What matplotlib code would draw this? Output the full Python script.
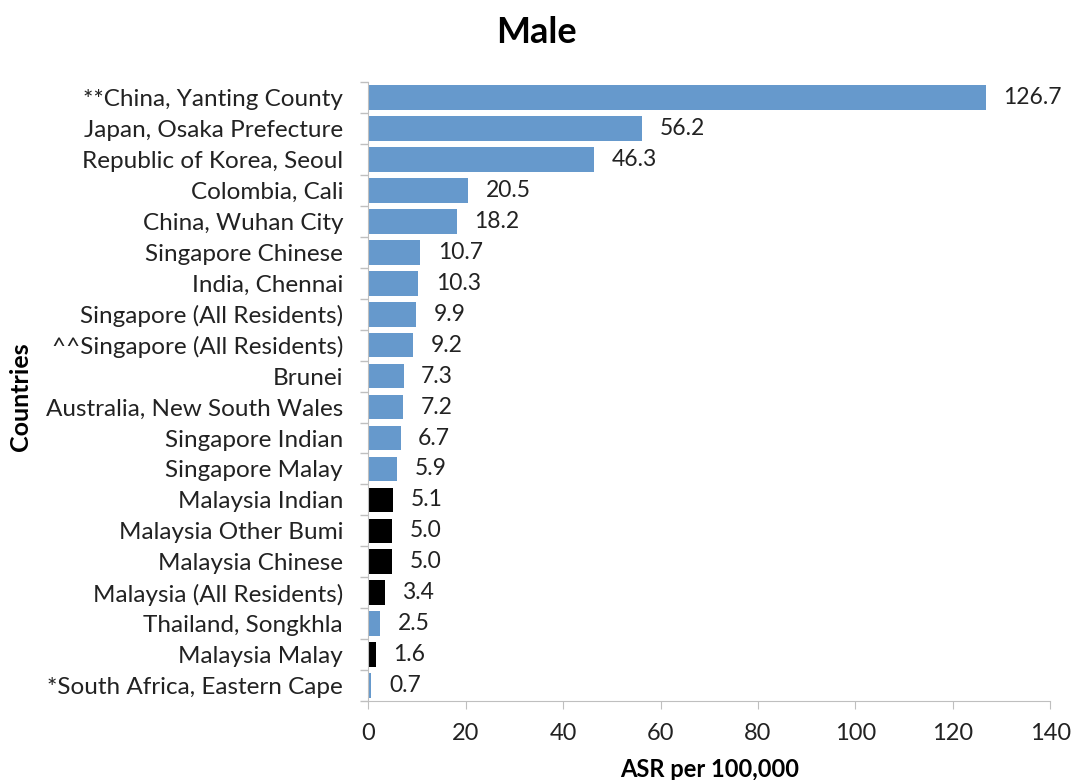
import numpy as np
import matplotlib
matplotlib.use('Agg')
import matplotlib.pyplot as plt

# rates per registry, top to bottom
countries = ['**China, Yanting County', 'Japan, Osaka Prefecture', 'Republic of Korea, Seoul',
             'Colombia, Cali', 'China, Wuhan City', 'Singapore Chinese', 'India, Chennai',
             'Singapore (All Residents)', '^^Singapore (All Residents)', 'Brunei',
             'Australia, New South Wales', 'Singapore Indian', 'Singapore Malay',
             'Malaysia Indian', 'Malaysia Other Bumi', 'Malaysia Chinese',
             'Malaysia (All Residents)', 'Thailand, Songkhla', 'Malaysia Malay',
             '*South Africa, Eastern Cape']
asr = [126.7, 56.2, 46.3, 20.5, 18.2, 10.7, 10.3, 9.9, 9.2, 7.3, 7.2, 6.7, 5.9,
       5.1, 5.0, 5.0, 3.4, 2.5, 1.6, 0.7]
x_ticks = [0, 20, 40, 60, 80, 100, 120, 140]

plt.rcParams['font.family'] = ['Lato', 'DejaVu Sans']

blue = '#6699cc'
colors = ['black' if c.startswith('Malaysia') else blue for c in countries]

fig = plt.figure(figsize=(10.73, 7.80), dpi=100)
ax = fig.add_axes([0.343, 0.101, 0.636, 0.794])

y = np.arange(len(countries))
ax.barh(y, asr, height=0.8, color=colors)
for yi, v in zip(y, asr):
    ax.text(v + 3.6, yi, '{0:.1f}'.format(v), va='center', ha='left', fontsize=16.5, color='#222222')

ax.set_ylim(len(countries) - 0.5, -0.5)
ax.set_xlim(0, 140)
ax.set_xticks(x_ticks)
ax.set_xticklabels([str(t) for t in x_ticks], fontsize=17, color='#222222')
ax.set_yticks(y)
ax.set_yticklabels(countries, fontsize=17.5, color='#222222')
ax.tick_params(axis='y', length=0, pad=18)
ax.set_yticks(np.arange(len(countries) + 1) - 0.5, minor=True)
ax.tick_params(axis='y', which='minor', length=6, color='#bfbfbf', width=1)
ax.tick_params(axis='x', length=6, color='#bfbfbf', pad=10)

for side in ['top', 'right']:
    ax.spines[side].set_visible(False)
for side in ['left', 'bottom']:
    ax.spines[side].set_color('#bfbfbf')

fig.text(0.661, 0.014, 'ASR per 100,000', ha='center', va='center', fontsize=17, fontweight='bold')
fig.text(0.019, 0.491, 'Countries', ha='center', va='center', rotation=90, fontsize=18, fontweight='bold')
fig.text(0.5, 0.958, 'Male', ha='center', va='center', fontsize=26, fontweight='bold')

fig.savefig('out.png', dpi=100)
